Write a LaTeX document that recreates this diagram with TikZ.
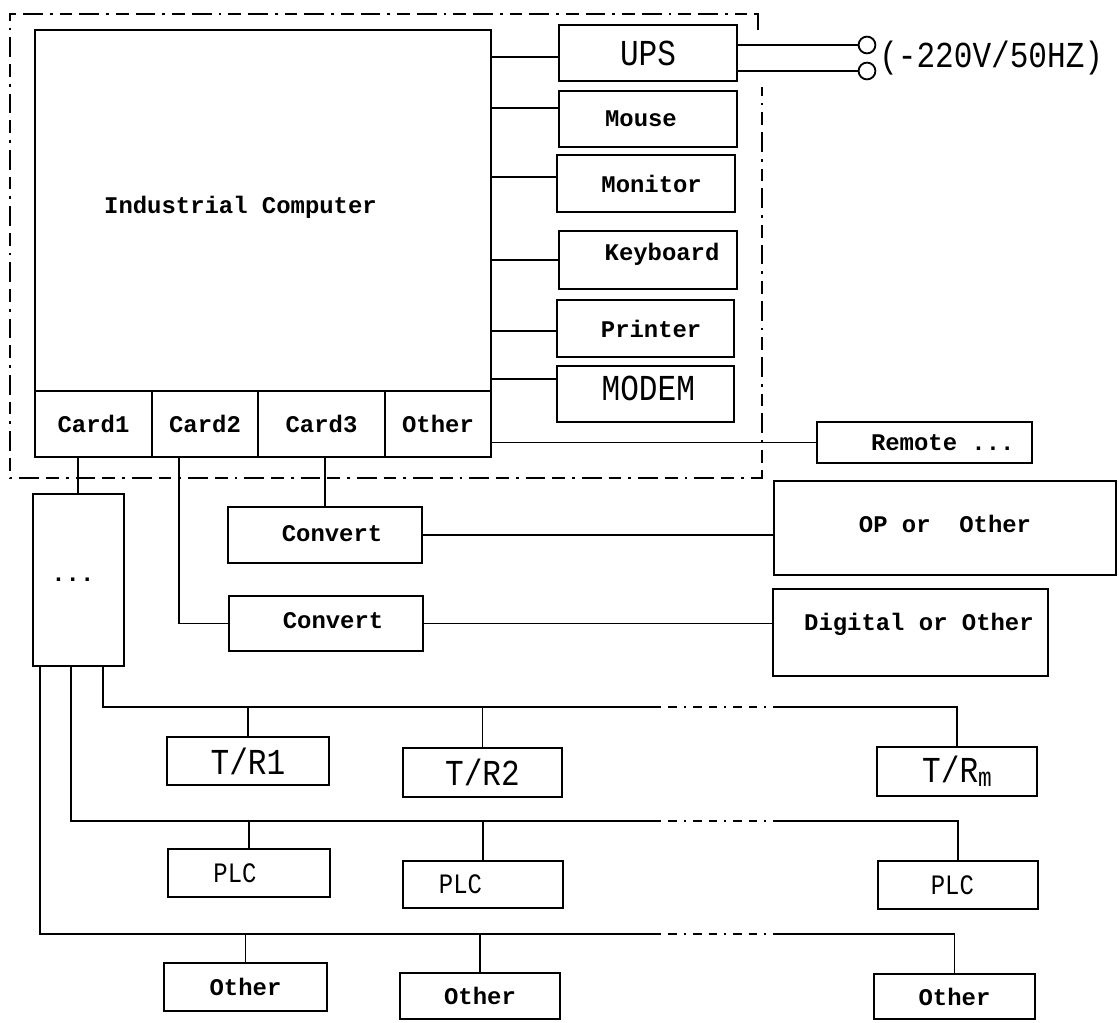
\documentclass[tikz,border=0pt]{standalone}
\usepackage{fontspec}
\newfontfamily\boxfont{Liberation Mono}
\newfontfamily\tallfont[FakeStretch=0.85]{Liberation Mono}
\usetikzlibrary{fit}

\tikzset{
  box/.style={draw,line width=1.5pt,inner sep=0pt},
  every label/.style={inner sep=0pt,font=\boxfont\bfseries\fontsize{17}{20}\selectfont},
  tall/.style={font=\tallfont\fontsize{26}{30}\selectfont},
  narrow/.style={font=\tallfont\fontsize{20}{24}\selectfont},
  wire/.style={line width=1.3pt},
  frame/.style={line width=1.3pt,
    dash pattern=on 14pt off 5pt on 9pt off 5pt on 2pt off 5pt},
  skip/.style={line width=1.3pt,
    dash pattern=on 6pt off 5pt on 6pt off 5pt on 1.5pt off 5pt},
  terminal/.style={circle,draw,line width=1.3pt,minimum size=0.42cm,inner sep=0pt}
}

\begin{document}
\begin{tikzpicture}[x=0.025cm,y=-0.025cm]
  \useasboundingbox (0,0) rectangle (1119,1022);

  % computer and its cards
  \node[box,fit={(35,30) (491,391)},
    label={[xshift=-16pt,yshift=2pt]center:Industrial Computer}] (comp) {};
  \node[box,fit={(35,391) (152,457)},label={center:Card1}] (card1) {};
  \node[box,fit={(152,391) (258,457)},label={center:Card2}] (card2) {};
  \node[box,fit={(258,391) (385,457)},label={center:Card3}] (card3) {};
  \node[box,fit={(385,391) (491,457)},label={center:Other}] (cardo) {};

  % peripherals
  \node[box,fit={(559,25) (737,81)},label={[tall]center:UPS}] (ups) {};
  \node[box,fit={(559,91) (737,147)},label={[xshift=-5pt]center:Mouse}] (mouse) {};
  \node[box,fit={(557,155) (735,212)},label={[xshift=4pt]center:Monitor}] (monitor) {};
  \node[box,fit={(559,231) (737,289)},label={[xshift=10pt,yshift=4pt]center:Keyboard}] (keyboard) {};
  \node[box,fit={(557,300) (734,357)},label={[xshift=4pt]center:Printer}] (printer) {};
  \node[box,fit={(557,366) (734,422)},label={[tall,xshift=2pt,yshift=4pt]center:MODEM}] (modem) {};

  \draw[wire] (comp.east |- 0,57) -- (ups.west |- 0,57);
  \draw[wire] (comp.east |- 0,108) -- (mouse.west |- 0,108);
  \draw[wire] (comp.east |- 0,177) -- (monitor.west |- 0,177);
  \draw[wire] (comp.east |- keyboard.west) -- (keyboard.west);
  \draw[wire] (comp.east |- 0,331) -- (printer.west |- 0,331);
  \draw[wire] (comp.east |- 0,379) -- (modem.west |- 0,379);

  % mains
  \node[terminal] (t1) at (867,45) {};
  \node[terminal] (t2) at (867,71) {};
  \draw[wire] (ups.east |- t1.west) -- (t1.west);
  \draw[wire] (ups.east |- t2.west) -- (t2.west);
  \node[anchor=west,inner sep=0pt,tall] (mains) at (879,58) {(-220V/50HZ)};

  % cabinet
  \draw[frame] (758,30) -- (758,14) -- (10,14) -- (10,478) -- (762,478) -- (762,87);

  \node[box,fit={(817,422) (1032,463)},label={[xshift=13pt]center:Remote ...}] (remote) {};
  \draw[wire] (cardo.east |- remote.west) -- (remote.west);

  % converters
  \node[box,fit={(228,507) (422,563)},label={[xshift=5pt,yshift=1pt]center:Convert}] (conv1) {};
  \node[box,fit={(229,596) (423,651)},label={[xshift=5pt,yshift=2pt]center:Convert}] (conv2) {};
  \node[box,fit={(774,481) (1116,575)},label={[yshift=3pt]center:OP or\ \ Other}] (op) {};
  \node[box,fit={(773,589) (1048,676)},label={[xshift=6pt,yshift=6pt]center:Digital or Other}] (digi) {};
  \draw[wire] (card3.south -| conv1.north) -- (conv1.north);
  \draw[wire] (card2.south -| 179,0) |- (conv2.west);
  \draw[wire] (conv1.east) -- (conv1.east -| op.west);
  \draw[wire] (conv2.east) -- (conv2.east -| digi.west);

  \node[box,fit={(33,494) (124,666)},label={[xshift=-4pt]center:...}] (dots) {};
  \draw[wire] (card1.south -| 78,0) -- (dots.north -| 78,0);

  % field buses
  \node[box,fit={(167,737) (329,785)},label={[tall]center:T/R1}] (tr1) {};
  \node[box,fit={(403,748) (562,797)},label={[tall]center:T/R2}] (tr2) {};
  \node[box,fit={(877,747) (1037,796)},
    label={[tall]center:T/R\raisebox{-3pt}{\fontsize{19}{20}\selectfont m}}] (trm) {};
  \node[box,fit={(168,849) (330,897)},label={[narrow,xshift=-10pt]center:PLC}] (plc1) {};
  \node[box,fit={(403,861) (563,908)},label={[narrow,xshift=-16pt]center:PLC}] (plc2) {};
  \node[box,fit={(878,861) (1038,909)},label={[narrow,xshift=-4pt]center:PLC}] (plcm) {};
  \node[box,fit={(164,963) (327,1011)},label={center:Other}] (oth1) {};
  \node[box,fit={(400,973) (560,1019)},label={center:Other}] (oth2) {};
  \node[box,fit={(874,974) (1035,1019)},label={center:Other}] (othm) {};

  \coordinate (trL) at (653,707);  \coordinate (trR) at (774,707);
  \coordinate (plcL) at (653,821); \coordinate (plcR) at (774,821);
  \coordinate (othL) at (653,934); \coordinate (othR) at (774,934);

  \draw[wire] (dots.south -| 103,0) |- (trL);
  \draw[skip] (trL) -- (trR);
  \draw[wire] (trR) -| (trm.north);
  \draw[wire] (tr1.north) -- (tr1.north |- trL);
  \draw[wire] (tr2.north) -- (tr2.north |- trL);

  \draw[wire] (dots.south -| 71,0) |- (plcL);
  \draw[skip] (plcL) -- (plcR);
  \draw[wire] (plcR) -| (plcm.north);
  \draw[wire] (plc1.north) -- (plc1.north |- plcL);
  \draw[wire] (plc2.north) -- (plc2.north |- plcL);

  \draw[wire] (dots.south -| 40,0) |- (othL);
  \draw[skip] (othL) -- (othR);
  \draw[wire] (othR) -| (othm.north);
  \draw[wire] (oth1.north) -- (oth1.north |- othL);
  \draw[wire] (oth2.north) -- (oth2.north |- othL);
\end{tikzpicture}
\end{document}
